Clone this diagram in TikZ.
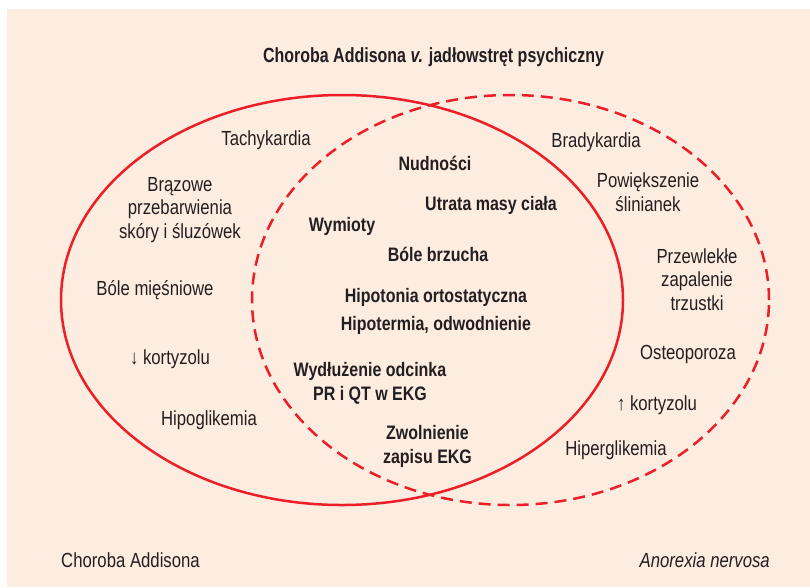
\documentclass[tikz,border=0pt]{standalone}
\usepackage{fontspec}
\setmainfont{Liberation Sans}[FakeStretch=0.82]
\newfontfamily\titlefont{Liberation Sans}[FakeStretch=0.78]
\definecolor{vred}{RGB}{236,30,40}
\definecolor{bgpeach}{RGB}{253,237,224}
\definecolor{ink}{RGB}{35,31,32}
\begin{document}
\begin{tikzpicture}[x=1pt,y=-1pt,
  lbl/.style={text=ink, font=\fontsize{20.4}{23.5}\selectfont, inner sep=0pt, align=center, anchor=base},
  blbl/.style={lbl, font=\fontsize{19.5}{23.5}\selectfont\bfseries},
  ring/.style={draw=vred, line width=2.5pt}]
\useasboundingbox (0,0) rectangle (810,587);
\fill[bgpeach] (7,9) rectangle (810,587);
% sets
\draw[ring] (342,300) ellipse [x radius=281pt, y radius=205pt];
\draw[ring, dash pattern=on 12pt off 7pt] (510.5,300) ellipse [x radius=258.5pt, y radius=205pt];
% title
\node[lbl, font=\fontsize{20.5}{24}\selectfont\titlefont\bfseries] (title) at (433.5,62) {Choroba Addisona \textit{v.} jadłowstręt psychiczny};
% Addison only (multi-line nodes: base = last line)
\node[lbl] (tachy) at (266,145) {Tachykardia};
\node[lbl] (braz) at (180,238) {Brązowe\\przebarwienia\\skóry i śluzówek};
\node[lbl] (bole) at (155,295) {Bóle mięśniowe};
\node[lbl] (kdown) at (170,364) {↓ kortyzolu};
\node[lbl] (hipog) at (209,425) {Hipoglikemia};
% common
\node[blbl] (nud) at (435,170) {Nudności};
\node[blbl] (utr) at (491,210) {Utrata masy ciała};
\node[blbl] (wym) at (342,231) {Wymioty};
\node[blbl] (brz) at (438,261) {Bóle brzucha};
\node[blbl] (hipot) at (436,302) {Hipotonia ortostatyczna};
\node[blbl] (hipoterm) at (436,330) {Hipotermia, odwodnienie};
\node[blbl] (wyd) at (370,400) {Wydłużenie odcinka\\PR i QT w EKG};
\node[blbl] (zwol) at (427.5,463) {Zwolnienie\\zapisu EKG};
% anorexia only
\node[lbl] (brad) at (596,147) {Bradykardia};
\node[lbl] (pow) at (648,211) {Powiększenie\\ślinianek};
\node[lbl] (prz) at (697,310) {Przewlekłe\\zapalenie\\trzustki};
\node[lbl] (ost) at (688,359) {Osteoporoza};
\node[lbl] (kup) at (657,410) {↑ kortyzolu};
\node[lbl] (hiperg) at (616,455) {Hiperglikemia};
% set labels
\node[lbl] (setA) at (130.5,567) {Choroba Addisona};
\node[lbl, anchor=base east, font=\fontsize{20.4}{23.5}\selectfont\itshape] (setB) at (770,567) {Anorexia nervosa};
\end{tikzpicture}
\end{document}
